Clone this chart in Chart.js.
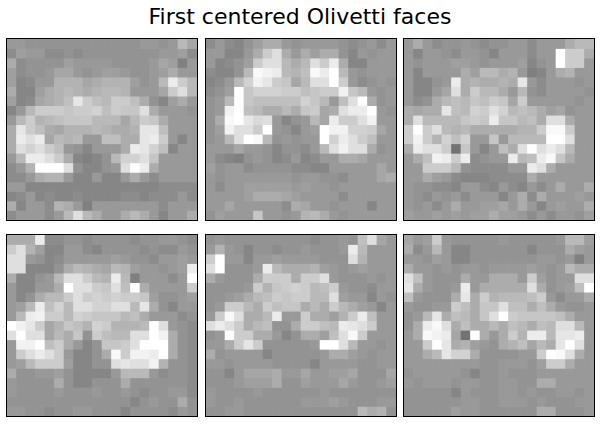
<!DOCTYPE html>
<html>
<head>
<meta charset="utf-8">
<script src="https://cdn.jsdelivr.net/npm/chart.js@4"></script>
<style>
  body { margin: 0; width: 600px; height: 446px; background: #fff; position: relative; overflow: hidden; }
  h1 { position: absolute; left: 0; top: 4px; width: 600px; margin: 0; text-align: center;
       font: normal 22px/26px "DejaVu Sans", sans-serif; color: #000; }
  .panel { position: absolute; width: 190px; height: 181px; border: 1px solid #000; }
</style>
</head>
<body>
<h1>First centered Olivetti faces</h1>
<div class="panel" style="left:6px;top:38px"><canvas id="face-0"></canvas></div>
<div class="panel" style="left:205px;top:38px"><canvas id="face-1"></canvas></div>
<div class="panel" style="left:403px;top:38px"><canvas id="face-2"></canvas></div>
<div class="panel" style="left:6px;top:234px"><canvas id="face-3"></canvas></div>
<div class="panel" style="left:205px;top:234px"><canvas id="face-4"></canvas></div>
<div class="panel" style="left:403px;top:234px"><canvas id="face-5"></canvas></div>
<script>
// pixel values in twentieths of vmax (gray colormap runs -vmax..vmax), rows top to bottom
const face1 = [
  [4,4,3,3,3,3,3,3,3,3,3,3,3,3,4,4,3,4,9,6],
  [2,5,4,4,2,2,3,2,3,3,3,3,3,3,3,3,4,4,5,2],
  [7,2,3,3,3,3,5,4,4,4,4,3,3,3,3,4,6,5,0,4],
  [5,2,3,3,4,6,6,4,3,4,5,5,4,3,3,4,5,7,4,4],
  [5,1,2,4,4,8,8,8,6,7,8,8,8,5,3,4,9,17,12,9],
  [7,1,1,5,7,8,9,8,7,8,9,9,8,4,4,4,6,12,15,9],
  [5,1,2,6,7,8,10,16,12,10,9,12,12,10,7,3,1,5,7,4],
  [1,4,9,12,12,12,11,12,12,13,10,12,11,11,15,7,4,4,4,3],
  [4,9,12,8,9,10,11,11,11,9,9,9,6,9,12,11,7,4,4,4],
  [7,16,12,10,7,6,8,8,8,9,8,7,7,8,16,16,10,4,4,4],
  [7,17,15,17,6,9,8,9,4,4,10,10,7,7,16,17,12,4,1,4],
  [7,15,13,15,12,10,4,3,1,4,4,4,7,17,16,13,10,1,4,4],
  [4,9,17,17,15,12,7,1,0,1,3,9,13,13,15,11,4,4,4,4],
  [2,4,8,20,20,20,15,3,1,1,3,4,15,20,17,7,4,4,4,4],
  [2,2,4,7,8,8,4,1,1,4,1,1,4,7,4,2,4,4,4,4],
  [4,4,1,1,1,1,1,1,1,1,1,1,1,1,1,1,2,2,2,2],
  [1,2,4,1,2,1,1,2,1,1,1,1,2,2,1,2,2,2,4,2],
  [7,1,4,4,2,8,7,4,0,4,4,4,4,4,4,4,2,4,4,4],
  [2,4,4,4,2,4,9,15,9,7,4,4,7,9,7,4,1,4,4,7]
];
const face2 = [
  [2,4,2,1,3,5,7,7,4,3,4,4,4,4,3,2,3,4,2,4],
  [4,4,1,1,4,7,12,15,7,4,7,5,7,7,3,1,4,3,4,4],
  [4,1,2,3,5,12,15,15,9,7,9,15,12,17,7,1,1,4,4,4],
  [2,1,1,3,9,19,18,17,9,8,10,19,17,20,9,4,3,4,4,4],
  [1,2,4,9,13,18,16,12,11,6,9,15,15,20,12,4,2,3,4,3],
  [2,3,5,20,11,13,13,13,12,12,10,11,12,12,18,11,9,4,3,4],
  [3,4,9,20,11,10,10,10,10,10,13,11,9,4,10,15,20,7,3,4],
  [3,4,18,20,10,9,7,7,9,7,11,12,6,7,15,17,17,20,4,3],
  [3,7,19,20,16,14,15,4,1,3,4,9,6,17,12,12,15,18,4,4],
  [3,5,18,15,15,12,20,4,3,1,4,5,20,18,18,13,13,12,6,4],
  [3,4,9,15,20,19,9,3,4,3,4,4,20,13,17,15,12,10,4,4],
  [4,4,4,6,4,4,3,1,3,3,2,4,9,15,18,15,15,7,3,4],
  [4,2,1,0,3,4,3,1,2,4,1,2,4,4,7,7,6,4,4,4],
  [5,3,4,4,2,3,3,3,3,2,2,1,1,4,4,4,4,4,6,4],
  [4,3,4,4,4,4,4,4,4,3,4,4,3,3,2,4,4,4,6,7],
  [4,2,4,4,5,5,5,5,5,4,5,4,4,3,4,4,4,4,4,4],
  [4,4,4,4,5,7,7,7,6,5,4,4,4,4,2,4,4,4,4,4],
  [4,4,6,4,4,4,4,4,2,7,6,4,4,3,4,4,4,1,4,4],
  [3,5,4,4,4,11,4,4,3,4,8,9,7,4,3,4,4,4,4,4]
];
const face3 = [
  [4,7,4,2,3,3,4,3,2,3,3,4,4,2,4,4,4,7,9,9],
  [4,1,4,4,3,2,4,4,3,1,4,4,4,2,4,4,20,12,12,7],
  [4,3,4,4,4,5,5,4,3,4,4,4,5,1,3,4,20,12,12,4],
  [4,1,4,4,4,4,7,5,9,9,7,8,4,0,1,4,7,8,4,4],
  [4,1,1,3,4,17,7,8,7,7,8,7,16,4,2,4,4,4,3,4],
  [4,1,1,4,6,15,7,12,9,9,7,4,9,3,2,4,4,4,4,3],
  [4,2,3,7,9,10,9,11,10,12,11,6,12,4,4,4,4,4,3,4],
  [7,6,7,7,16,10,9,13,12,15,13,9,10,9,7,5,6,3,4,4],
  [7,15,9,9,9,9,11,12,11,17,11,11,9,10,7,15,15,7,4,4],
  [12,20,12,15,9,8,9,7,7,7,7,7,8,8,12,19,19,12,4,4],
  [12,18,12,8,13,10,13,4,4,11,4,9,9,9,9,20,20,15,4,4],
  [7,17,15,15,12,-2,11,4,1,4,10,7,15,20,15,17,15,9,4,4],
  [4,7,10,18,17,12,17,2,3,4,4,17,9,10,17,19,11,7,4,4],
  [4,4,12,12,12,9,3,2,2,2,2,4,4,17,15,7,4,4,4,4],
  [4,4,7,5,4,2,1,1,1,2,2,2,2,7,4,4,4,4,4,4],
  [4,3,3,2,2,1,4,4,2,1,4,2,1,4,2,4,7,4,4,7],
  [4,3,2,4,3,4,2,4,4,4,1,4,7,2,7,4,4,4,5,4],
  [4,3,4,2,4,7,4,4,5,5,6,4,7,4,1,4,5,4,4,7],
  [5,4,4,5,4,5,4,5,5,7,5,5,4,2,4,2,4,4,3,5]
];
const face4 = [
  [7,7,7,17,2,2,3,3,2,3,3,3,3,2,3,3,4,4,3,2],
  [12,15,8,5,1,1,4,4,2,1,3,3,3,3,2,3,2,2,4,3],
  [15,15,4,3,1,2,4,4,4,4,4,5,4,3,3,2,4,4,5,4],
  [15,15,1,1,1,3,7,9,8,7,6,9,8,5,4,4,3,4,5,17],
  [7,1,1,3,4,9,15,15,12,9,8,17,9,0,4,4,4,2,4,20],
  [4,1,1,4,4,7,20,15,15,12,11,15,10,20,7,4,4,4,4,12],
  [4,1,3,7,9,9,12,15,12,13,12,13,12,12,11,5,3,3,4,5],
  [4,5,9,17,10,13,9,15,15,13,13,15,15,9,16,7,3,1,4,4],
  [4,9,17,18,12,12,9,13,12,11,11,11,9,10,7,4,4,4,2,3],
  [20,18,16,12,6,8,11,10,8,13,12,8,8,8,9,20,15,4,3,2],
  [15,20,15,15,6,9,7,11,3,12,10,9,9,15,15,20,18,7,3,2],
  [4,18,18,20,10,12,7,4,1,3,11,11,12,15,20,20,20,7,3,2],
  [4,12,15,17,15,12,4,1,1,3,7,19,12,18,18,17,20,7,3,2],
  [4,5,9,12,12,12,5,1,1,3,3,15,16,15,15,18,8,3,3,2],
  [7,3,3,4,4,5,3,1,1,1,1,4,9,9,9,4,2,3,3,2],
  [4,3,3,3,3,7,3,1,1,3,3,3,7,3,3,3,3,3,3,2],
  [4,3,3,3,3,4,3,3,3,4,3,3,4,3,2,3,3,4,4,2],
  [3,3,3,3,3,3,3,3,3,3,3,3,3,1,3,4,3,3,7,3],
  [4,4,3,3,2,3,3,4,4,3,3,3,1,3,3,3,3,2,4,3]
];
const face5 = [
  [3,4,3,3,3,3,3,3,3,3,3,2,3,3,4,3,10,15,6,4],
  [4,8,4,3,1,3,3,2,3,3,4,3,3,3,4,17,9,4,4,4],
  [12,20,4,4,1,4,4,5,4,4,4,4,3,3,3,15,8,4,4,4],
  [15,20,3,3,3,4,17,9,7,7,7,8,5,4,3,4,5,4,4,4],
  [7,4,3,3,3,7,12,12,12,7,12,12,15,4,3,3,3,4,3,4],
  [3,3,3,3,4,12,8,11,12,13,12,9,10,12,4,3,3,2,4,4],
  [3,3,4,5,7,9,10,12,11,12,12,9,9,15,5,4,4,1,4,3],
  [3,4,12,12,9,7,12,10,11,11,7,9,7,12,9,7,5,4,1,4],
  [4,12,19,15,7,7,9,17,4,4,12,7,7,5,8,12,17,10,4,4],
  [15,17,15,12,7,9,10,3,3,7,12,12,10,9,17,16,15,12,4,4],
  [3,4,20,12,12,7,7,4,1,3,7,7,5,10,15,19,12,4,4,4],
  [4,4,7,12,16,12,3,3,3,3,3,4,20,20,15,9,4,4,3,4],
  [7,3,4,4,4,4,1,3,3,3,3,3,4,7,7,5,4,3,4,4],
  [4,4,3,4,4,4,4,3,3,3,3,1,4,4,4,4,3,3,4,4],
  [3,3,1,4,6,6,6,7,4,4,6,4,4,5,5,6,3,3,3,6],
  [3,3,3,4,5,5,5,7,3,3,5,4,4,4,6,4,3,3,4,5],
  [4,3,3,3,3,4,3,3,3,3,3,3,4,3,3,3,3,3,3,3],
  [4,3,3,4,3,3,3,3,3,3,4,4,4,5,4,3,3,3,4,4],
  [3,3,4,4,3,3,3,3,3,3,3,3,3,3,3,3,9,7,8,3]
];
const face6 = [
  [6,4,5,12,4,3,3,3,3,3,4,3,3,3,3,3,4,9,9,5],
  [7,2,4,9,4,1,1,3,3,3,3,3,3,1,3,3,3,7,5,4],
  [4,4,3,5,4,1,1,3,3,3,3,3,3,3,4,4,3,4,0,4],
  [7,4,4,3,4,3,4,4,3,4,4,4,4,5,4,3,4,9,7,7],
  [15,10,4,3,3,3,7,4,4,7,7,7,4,12,5,3,4,4,15,15],
  [16,7,4,3,3,4,17,4,7,7,7,7,7,15,7,3,4,5,10,20],
  [10,4,3,3,3,7,16,7,12,8,9,9,9,10,12,4,2,4,4,7],
  [4,3,3,4,4,12,10,7,11,11,15,10,10,7,10,7,4,3,3,4],
  [3,4,9,16,7,10,9,7,11,15,20,12,11,11,11,11,10,7,4,4],
  [3,7,17,19,15,7,10,7,7,9,7,10,9,7,10,9,15,15,9,4],
  [4,7,19,18,17,6,-2,20,7,4,7,12,8,17,17,9,16,16,17,4],
  [4,4,12,20,16,7,8,5,4,3,7,8,10,6,9,7,16,20,15,4],
  [4,4,7,9,16,13,13,7,3,3,3,3,4,4,12,20,19,15,7,4],
  [4,4,4,4,4,4,4,4,3,3,4,4,4,3,5,12,12,7,4,4],
  [3,4,4,4,4,4,3,1,3,3,4,3,3,3,4,4,4,4,4,4],
  [4,3,4,4,4,3,4,4,3,3,4,4,3,3,7,7,4,4,4,4],
  [3,3,3,3,3,1,4,3,3,3,4,4,3,4,3,3,4,4,3,4],
  [3,3,3,3,3,3,4,4,3,3,4,4,4,3,4,3,3,3,4,4],
  [3,3,3,3,3,5,4,4,3,3,3,3,3,3,7,7,3,3,3,4]
];
const faces = [face1, face2, face3, face4, face5, face6];
const columns = face1[0].map((_, i) => String(i));

// matplotlib 'gray' with vmin = -vmax
function gray(v) {
  const t = Math.max(0, Math.min(1, (v / 20 + 1) / 2));
  const g = Math.round(t * 255);
  return `rgb(${g},${g},${g})`;
}

// each image row is one dataset of a stacked bar chart, one bar per pixel column
function drawFace(canvas, face) {
  const datasets = face.map((row, r) => ({
    label: 'row ' + r,
    data: row.map(() => 1),
    backgroundColor: row.map(gray),
    borderWidth: 0,
    barPercentage: 1,
    categoryPercentage: 1
  }));
  new Chart(canvas, {
    type: 'bar',
    data: { labels: columns, datasets },
    options: {
      responsive: true,
      maintainAspectRatio: false,
      animation: false,
      events: [],
      layout: { padding: 0 },
      plugins: { legend: { display: false }, tooltip: { enabled: false } },
      scales: {
        x: { display: false, stacked: true },
        y: { display: false, stacked: true, reverse: true, min: 0, max: face.length }
      }
    }
  });
}

faces.forEach((f, i) => drawFace(document.getElementById('face-' + i), f));
</script>
</body>
</html>
